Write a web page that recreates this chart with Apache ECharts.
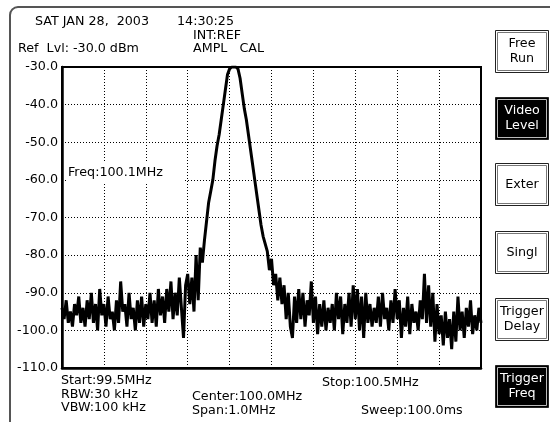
<!DOCTYPE html>
<html>
<head>
<meta charset="utf-8">
<script src="https://cdn.jsdelivr.net/npm/echarts@6/dist/echarts.min.js"></script>
<style>
  html, body { margin: 0; padding: 0; background: #fff; }
  #chart { width: 550px; height: 422px; }
</style>
</head>
<body>
<div id="chart"></div>
<script>
// 频率范围 (MHz)
const startFreq = 99.5;
const stopFreq = 100.5;
const freqStep = 0.005;

// 纵轴刻度 (dBm)
const yTicks = [-110, -100, -90, -80, -70, -60, -50, -40, -30];

// 扫描迹线读数 (dBm)，每 0.005 MHz 一个点
const traceDb = [
    -94, -97, -92, -98, -95, -99, -93, -96, -91, -98,
    -94, -99, -92, -97, -90, -98, -93, -100, -89, -96,
    -93, -99, -91, -97, -95, -100, -92, -98, -87, -95,
    -93, -99, -90, -97, -94, -100, -92, -98, -91, -99,
    -93, -97, -90, -98, -92, -99, -89, -96, -91, -98,
    -89, -95, -87, -97, -90, -96, -86, -94, -102, -88,
    -85, -93, -86, -95, -80, -92, -78, -82, -76, -71,
    -66, -63, -60, -55, -51, -48, -44, -40, -36, -32,
    -30.5, -30, -30, -30, -30.5, -33, -37, -41, -44, -48,
    -52, -56, -60, -64, -68, -72, -75, -77, -79, -84,
    -81, -88, -85, -92, -86, -93, -88, -97, -90, -99,
    -102, -91, -98, -89, -97, -90, -99, -92, -96, -87,
    -98, -91, -101, -93, -99, -92, -100, -94, -98, -93,
    -100, -90, -97, -91, -101, -93, -98, -90, -99, -88,
    -97, -89, -100, -91, -102, -90, -98, -93, -99, -94,
    -98, -91, -99, -90, -97, -94, -100, -92, -98, -89,
    -97, -92, -102, -94, -99, -91, -101, -93, -98, -95,
    -100, -92, -97, -85, -98, -88, -99, -90, -103, -93,
    -101, -96, -104, -95, -102, -97, -105, -95, -103, -91,
    -100, -95, -102, -94, -99, -92, -101, -96, -100, -94, -98
];

// 屏幕文字
const headerTexts = [
    { text: 'SAT JAN 28,  2003', x: 35, y: 22 },
    { text: '14:30:25', x: 177, y: 22 },
    { text: 'INT:REF', x: 193, y: 36 },
    { text: 'Ref  Lvl: -30.0 dBm', x: 18, y: 49 },
    { text: 'AMPL   CAL', x: 193, y: 49 }
];
const footerTexts = [
    { text: 'Start:99.5MHz', x: 61, y: 381 },
    { text: 'RBW:30 kHz', x: 61, y: 395 },
    { text: 'VBW:100 kHz', x: 61, y: 408 },
    { text: 'Center:100.0MHz', x: 192, y: 397 },
    { text: 'Span:1.0MHz', x: 192, y: 411 },
    { text: 'Stop:100.5MHz', x: 322, y: 383 },
    { text: 'Sweep:100.0ms', x: 361, y: 411 }
];

// 右侧软键
const softKeys = [
    { label: 'Free\nRun', y: 30, active: false },
    { label: 'Video\nLevel', y: 97, active: true },
    { label: 'Exter', y: 163, active: false },
    { label: 'Singl', y: 231, active: false },
    { label: 'Trigger\nDelay', y: 298, active: false },
    { label: 'Trigger\nFreq', y: 365, active: true }
];

const markerText = 'Freq:100.1MHz';

const FONT = '"DejaVu Sans", Verdana, sans-serif';
const FONT_SIZE = 12.7;

const chart = echarts.init(document.getElementById('chart'));

// 组装迹线数据
const traceData = traceDb.map((v, i) => [startFreq + i * freqStep, v]);

const graphics = [];

// 外框
graphics.push({
    type: 'rect',
    shape: { x: 10, y: 7, width: 600, height: 500, r: 8 },
    style: { fill: 'none', stroke: '#555', lineWidth: 2 },
    z: 1
});

headerTexts.concat(footerTexts).forEach(t => {
    graphics.push({
        type: 'text',
        x: t.x,
        y: t.y,
        style: {
            text: t.text,
            font: FONT_SIZE + 'px ' + FONT,
            fill: '#000',
            verticalAlign: 'middle'
        },
        z: 10
    });
});

// 标记读数
graphics.push({
    type: 'rect',
    shape: { x: 66, y: 163, width: 117, height: 21 },
    style: { fill: '#fff' },
    z: 50
});
graphics.push({
    type: 'text',
    x: 68,
    y: 173,
    style: { text: markerText, font: FONT_SIZE + 'px ' + FONT, fill: '#000', verticalAlign: 'middle' },
    z: 51
});

softKeys.forEach(k => {
    const h = 42;
    graphics.push({
        type: 'rect',
        shape: { x: 495.5, y: k.y + 0.5, width: 53, height: h },
        style: { fill: k.active ? '#000' : '#fff', stroke: '#222', lineWidth: 1 },
        z: 10
    });
    graphics.push({
        type: 'rect',
        shape: { x: 497.5, y: k.y + 2.5, width: 49, height: h - 4 },
        style: { fill: 'none', stroke: k.active ? '#bbb' : '#777', lineWidth: 1 },
        z: 11
    });
    graphics.push({
        type: 'text',
        x: 522,
        y: k.y + h / 2 + 0.5,
        style: {
            text: k.label,
            font: FONT_SIZE + 'px ' + FONT,
            fill: k.active ? '#fff' : '#000',
            align: 'center',
            verticalAlign: 'middle',
            lineHeight: 15
        },
        z: 12
    });
});

const option = {
    animation: false,
    grid: {
        left: 62,
        top: 67,
        right: 69,
        bottom: 54,
        show: true,
        borderColor: '#000',
        borderWidth: 2,
        backgroundColor: 'transparent'
    },
    xAxis: {
        type: 'value',
        min: startFreq,
        max: stopFreq,
        interval: 0.1,
        axisLabel: { show: false },
        axisTick: { show: false },
        axisLine: { show: true, lineStyle: { color: '#000', width: 2.5 } },
        splitLine: { show: true, lineStyle: { color: '#000', width: 1, type: [1, 2] } }
    },
    yAxis: {
        type: 'value',
        min: yTicks[0],
        max: yTicks[yTicks.length - 1],
        interval: 10,
        axisLabel: {
            color: '#000',
            fontFamily: FONT,
            fontSize: FONT_SIZE,
            margin: 4,
            formatter: v => v.toFixed(1)
        },
        axisTick: { show: false },
        axisLine: { show: true, lineStyle: { color: '#000', width: 2.5 } },
        splitLine: { show: true, lineStyle: { color: '#000', width: 1, type: [1, 2] } }
    },
    series: [{
        type: 'line',
        data: traceData,
        symbol: 'none',
        clip: true,
        lineStyle: { color: '#000', width: 3, join: 'bevel' },
        z: 5
    }],
    graphic: graphics
};

chart.setOption(option);
</script>
</body>
</html>
